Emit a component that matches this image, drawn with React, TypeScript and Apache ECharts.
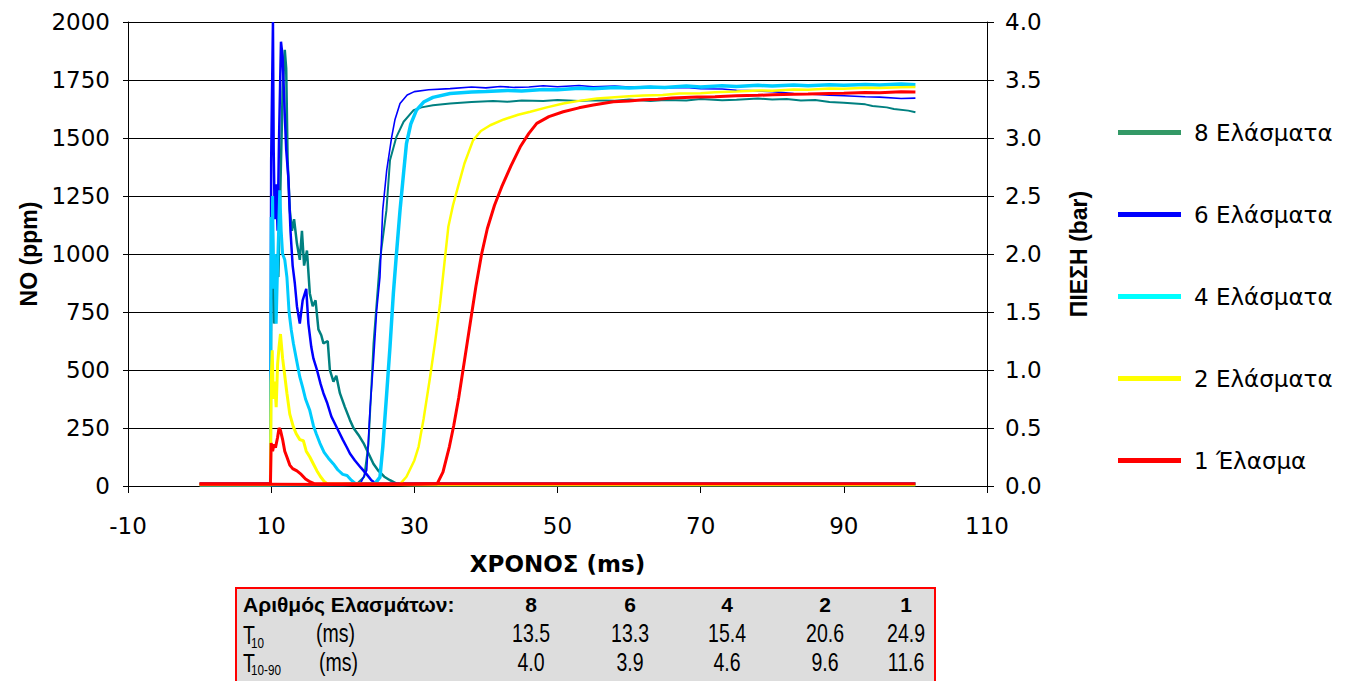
import React, { useEffect, useRef } from 'react';
import * as echarts from 'echarts';

// ---------- data ----------
const seriesNames = ['8 Ελάσματα', '6 Ελάσματα', '4 Ελάσματα', '2 Ελάσματα', '1 Έλασμα'];
const lineColors = ['#008080', '#0000FF', '#00CCFF', '#FFFF00', '#FF0000'];
const legendColors = ['#339966', '#0000FF', '#00FFFF', '#FFFF00', '#FF0000'];

// NO concentration (ppm) vs time (ms)
const no8 = [[0,6],[5,8],[10,6],[15,7],[20,8],[22,10],[23,40],[23.6,183],[24.3,614],[25.2,973],[26.1,1188],[26.6,1404],[27.5,1505],[28.5,1570],[29.9,1620],[31,1632],[32.6,1641],[35,1649],[38,1655],[41,1660],[43,1656],[45,1662],[48,1660],[50,1664],[53,1659],[55,1663],[58,1661],[60,1666],[63,1660],[65,1664],[68,1662],[70,1668],[73,1663],[75,1665],[78,1670],[80,1666],[82,1668],[84,1662],[86,1664],[88,1655],[90,1652],[91,1650],[93,1645],[94,1638],[96,1632],[97,1625],[99,1618],[100,1611]];
const no6 = [[0,8],[10,7],[20,9],[22.5,12],[23.35,67],[23.8,326],[24.3,540],[24.74,757],[25.2,900],[25.58,1188],[26.14,1361],[26.84,1505],[27.3,1580],[28,1649],[29,1685],[30,1700],[32,1708],[35,1713],[38,1720],[40,1716],[42,1722],[44,1718],[46,1720],[48,1725],[50,1721],[53,1726],[55,1721],[58,1724],[60,1720],[63,1722],[65,1716],[68,1718],[70,1712],[73,1711],[75,1706],[78,1703],[80,1700],[83,1692],[85,1690],[88,1684],[90,1682],[93,1678],[95,1676],[98,1670],[100,1672]];
const no4 = [[0,5],[10,5],[20,6],[24.5,10],[25.2,38],[25.6,170],[26.14,399],[26.6,600],[27.07,830],[27.5,1000],[28,1188],[28.5,1350],[28.9,1476],[29.5,1560],[30.3,1620],[31.3,1655],[32.6,1675],[35,1692],[38,1698],[40,1700],[43,1705],[45,1703],[48,1709],[50,1708],[53,1714],[55,1712],[58,1718],[60,1716],[63,1720],[65,1718],[68,1724],[70,1720],[73,1725],[75,1722],[78,1727],[80,1724],[83,1728],[85,1725],[88,1730],[90,1727],[93,1731],[95,1728],[98,1733],[100,1730]];
const no2 = [[0,7],[10,6],[20,7],[28,8],[28.9,40],[30,110],[30.6,170],[31.3,290],[32.2,470],[32.9,620],[33.6,787],[34.2,960],[34.75,1117],[35.4,1210],[36.1,1289],[37,1390],[38.2,1490],[39.3,1530],[40.6,1555],[42.5,1580],[44.5,1600],[46.2,1613],[48.5,1632],[50.8,1649],[53,1660],[55.5,1670],[58,1676],[60,1680],[62,1683],[64.7,1685],[67,1692],[70,1693],[72,1697],[75,1700],[78,1705],[80,1704],[83,1709],[85,1708],[88,1713],[90,1712],[93,1717],[95,1716],[98,1719],[100,1720]];
const no1 = [[0,8],[10,8],[20,7],[30,8],[33.2,10],[34,60],[34.9,170],[35.5,260],[36.2,380],[37,540],[37.8,700],[38.6,860],[39.4,1000],[40.2,1110],[41.2,1210],[42.2,1289],[43.5,1380],[44.8,1462],[46,1520],[47.1,1563],[48.8,1592],[50.8,1613],[53,1630],[55,1642],[57.8,1656],[60,1660],[62,1665],[64,1667],[66,1672],[69.5,1677],[72,1678],[75,1682],[78,1684],[80,1686],[83,1689],[85,1690],[88,1692],[90,1693],[93,1696],[95,1695],[98,1699],[100,1698]];

// Pressure (bar) vs time (ms)
const p8 = [[0,0.02],[5,0.02],[9.9,0.02],[10.0,1.6],[10.2,2.3],[10.4,1.4],[10.6,1.6],[10.8,2.0],[11.0,1.8],[11.3,2.6],[11.6,3.4],[11.9,3.76],[12.1,3.6],[12.3,2.8],[12.6,2.38],[12.9,2.2],[13.2,2.3],[13.6,2.09],[14.0,1.95],[14.3,2.2],[14.6,1.9],[15.0,2.03],[15.4,1.66],[15.8,1.55],[16.2,1.6],[16.6,1.35],[17.0,1.3],[17.3,1.23],[17.9,1.25],[18.2,1.0],[18.7,0.9],[19.1,0.95],[19.6,0.8],[20.3,0.68],[21,0.57],[21.5,0.5],[22.2,0.44],[22.9,0.37],[23.6,0.28],[24.3,0.19],[25,0.13],[25.8,0.08],[26.6,0.05],[27.5,0.02],[30,0.02],[100,0.02]];
const p6 = [[0,0.02],[9.9,0.02],[10.0,2.8],[10.1,3.3],[10.25,4.0],[10.35,2.9],[10.5,2.3],[10.7,2.6],[10.9,2.2],[11.1,3.0],[11.37,3.83],[11.6,3.7],[11.9,3.2],[12.1,2.9],[12.4,2.66],[12.7,2.2],[13.0,1.9],[13.3,1.75],[13.6,1.55],[14.0,1.4],[14.4,1.6],[14.9,1.7],[15.2,1.4],[15.6,1.2],[15.9,1.1],[16.4,1.0],[16.9,0.88],[17.3,0.8],[17.8,0.72],[18.4,0.6],[19.2,0.5],[20,0.4],[20.6,0.33],[21,0.28],[21.7,0.22],[22.5,0.16],[23.35,0.1],[24,0.05],[24.7,0.02],[30,0.02],[100,0.02]];
const p4 = [[0,0.01],[9.9,0.01],[10.0,2.32],[10.1,1.9],[10.2,2.5],[10.35,1.7],[10.5,2.0],[10.7,1.4],[10.9,1.9],[11.2,2.55],[11.4,2.2],[11.6,2.0],[11.9,1.95],[12.2,1.8],[12.5,1.5],[12.8,1.35],[13.1,1.23],[13.5,1.1],[14.0,0.94],[14.4,0.85],[14.8,0.75],[15.4,0.65],[15.9,0.52],[16.3,0.45],[16.8,0.37],[17.4,0.29],[18.0,0.24],[18.7,0.19],[19.3,0.14],[20,0.1],[20.6,0.09],[21.2,0.05],[21.8,0.02],[30,0.01],[100,0.01]];
const p2 = [[0,0.01],[9.9,0.01],[10.0,0.9],[10.15,1.17],[10.3,0.75],[10.5,0.9],[10.7,0.68],[10.9,1.05],[11.1,1.2],[11.3,1.31],[11.6,1.1],[11.9,0.95],[12.2,0.8],[12.6,0.62],[13.1,0.51],[13.5,0.45],[14.0,0.4],[14.5,0.39],[14.9,0.3],[15.4,0.25],[15.9,0.19],[16.4,0.13],[16.9,0.08],[17.4,0.04],[17.8,0.02],[30,0.01],[100,0.01]];
const p1 = [[0,0.02],[9.9,0.02],[10.0,0.37],[10.2,0.3],[10.4,0.36],[10.6,0.33],[10.9,0.42],[11.1,0.5],[11.3,0.48],[11.6,0.4],[11.9,0.3],[12.2,0.25],[12.6,0.18],[13.0,0.15],[13.6,0.13],[14.2,0.1],[14.8,0.06],[15.3,0.04],[16,0.02],[20,0.02],[100,0.02]];

const noData = [no8, no6, no4, no2, no1];
const pressureData = [p8, p6, p4, p2, p1];
const noWidths = [2, 1.6, 3.5, 2.5, 3];
const pWidths = [2.5, 2.5, 3, 3, 3];

// table
const plateCounts = ['8', '6', '4', '2', '1'];
const t10Values = [13.5, 13.3, 15.4, 20.6, 24.9];
const t1090Values = [4.0, 3.9, 4.6, 9.6, 11.6];

// axis titles
const xTitle = 'ΧΡΟΝΟΣ (ms)';
const yLeftTitle = 'NO (ppm)';
const yRightTitle = 'ΠΙΕΣΗ (bar)';

export default function App() {
  const ref = useRef<HTMLDivElement>(null);
  useEffect(() => {
    if (!ref.current) return;
    const chart = echarts.init(ref.current, null, { renderer: 'svg' });
    const chartFont = 'DejaVu Sans';
    const tableFont = 'Liberation Sans';
    const series: any[] = [];
    for (let i = 0; i < 5; i++) {
      series.push({
        name: seriesNames[i], type: 'line', xAxisIndex: 0, yAxisIndex: 1,
        data: pressureData[i], showSymbol: false, symbol: 'none', silent: true,
        lineStyle: { color: lineColors[i], width: pWidths[i] }, itemStyle: { color: lineColors[i] },
      });
      series.push({
        name: seriesNames[i], type: 'line', xAxisIndex: 0, yAxisIndex: 0,
        data: noData[i], showSymbol: false, symbol: 'none', silent: true,
        lineStyle: { color: lineColors[i], width: noWidths[i] }, itemStyle: { color: lineColors[i] },
      });
    }
    const cols = [531, 630, 727, 825, 906];
    const rowText = (text: string, x: number, y: number, size: number, bold = false, align = 'center', sx = 0.78) => ({
      type: 'text', x, y, scaleX: sx, silent: true,
      style: { text, fontFamily: tableFont, fontSize: size, fontWeight: bold ? 'bold' : 'normal', fill: '#000', align, verticalAlign: 'middle' },
    });
    const graphic: any[] = [
      { type: 'rect', silent: true, shape: { x: 236, y: 588, width: 699, height: 110 }, style: { fill: '#DDDDDD', stroke: '#FF0000', lineWidth: 2 } },
      rowText('Αριθμός Ελασμάτων:', 243, 604, 21, true, 'left', 1),
      ...plateCounts.map((p, i) => rowText(p, cols[i], 604, 21, true, 'center', 1)),
      rowText('T', 243, 636, 25, false, 'left'),
      rowText('10', 251, 643, 15, false, 'left'),
      rowText('(ms)', 316, 634, 25, false, 'left'),
      ...t10Values.map((v, i) => rowText(v.toFixed(1), cols[i], 634, 25)),
      rowText('T', 243, 664, 25, false, 'left'),
      rowText('10-90', 251, 670, 15, false, 'left'),
      rowText('(ms)', 319, 663, 25, false, 'left'),
      ...t1090Values.map((v, i) => rowText(v.toFixed(1), cols[i], 663, 25)),
    ];
    chart.setOption({
      animation: false,
      backgroundColor: '#ffffff',
      grid: { left: 128, right: 372, top: 22, bottom: 195, containLabel: false },
      legend: {
        orient: 'vertical', left: 1113, top: 116, itemGap: 59, itemWidth: 63, itemHeight: 5,
        icon: 'rect', selectedMode: false,
        itemStyle: { borderWidth: 0 },
        textStyle: { fontFamily: chartFont, fontSize: 23, lineHeight: 23, color: '#000', padding: [0, 0, 0, 8] },
        data: seriesNames.map((n, i) => ({ name: n, itemStyle: { color: legendColors[i], borderWidth: 0 } })),
      },
      xAxis: {
        type: 'value', min: -10, max: 110, interval: 20,
        name: xTitle, nameLocation: 'middle', nameGap: 66,
        nameTextStyle: { fontFamily: chartFont, fontSize: 23, fontWeight: 'bold', color: '#000' },
        axisLine: { show: true, onZero: false, lineStyle: { color: '#000', width: 1 } },
        axisTick: { show: true, length: 7, lineStyle: { color: '#000' } },
        axisLabel: { fontFamily: chartFont, fontSize: 23, color: '#000', margin: 28 },
        splitLine: { show: false },
      },
      yAxis: [
        {
          type: 'value', min: 0, max: 2000, interval: 250, position: 'left',
          name: yLeftTitle, nameLocation: 'middle', nameGap: 88, nameRotate: 90,
          nameTextStyle: { fontFamily: tableFont, fontSize: 23, fontWeight: 'bold', color: '#000' },
          axisLine: { show: true, onZero: false, lineStyle: { color: '#000', width: 1 } },
          axisTick: { show: true, length: 5, lineStyle: { color: '#000' } },
          axisLabel: { fontFamily: chartFont, fontSize: 23, color: '#000', margin: 18, formatter: (v: number) => String(v) },
          splitLine: { show: true, lineStyle: { color: '#000', width: 1 } },
        },
        {
          type: 'value', min: 0, max: 4, interval: 0.5, position: 'right',
          name: yRightTitle, nameLocation: 'middle', nameGap: 80, nameRotate: 90,
          nameTextStyle: { fontFamily: tableFont, fontSize: 23, fontWeight: 'bold', color: '#000' },
          axisLine: { show: true, onZero: false, lineStyle: { color: '#000', width: 1 } },
          axisTick: { show: true, length: 7, lineStyle: { color: '#000' } },
          axisLabel: { fontFamily: chartFont, fontSize: 23, color: '#000', margin: 18, formatter: (v: number) => v.toFixed(1) },
          splitLine: { show: false },
        },
      ],
      series,
      graphic,
    });
    return () => chart.dispose();
  }, []);
  return <div ref={ref} style={{ position: 'fixed', left: 0, top: 0, width: 1359, height: 681, background: '#fff' }} />;
}
